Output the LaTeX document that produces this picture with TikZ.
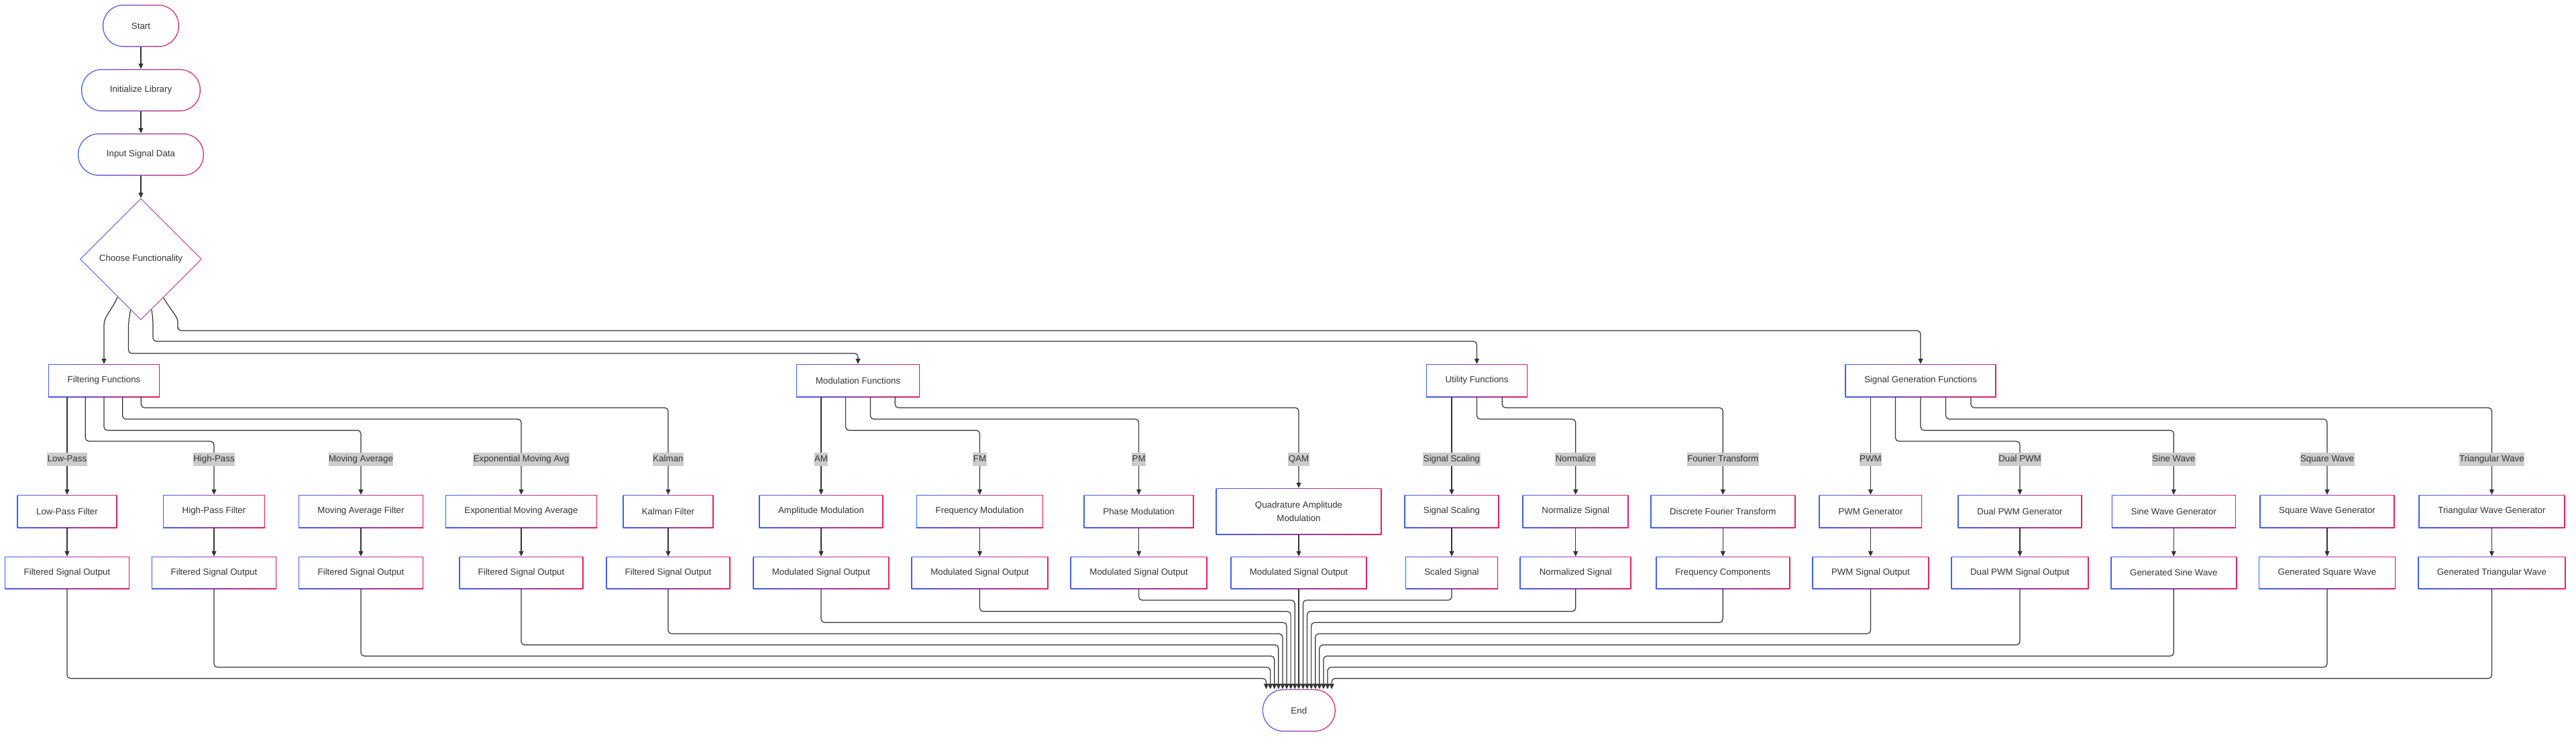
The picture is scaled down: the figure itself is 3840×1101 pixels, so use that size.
\documentclass[tikz,border=0pt]{standalone}
\usepackage{fontspec}
\setmainfont{Liberation Sans}
\usetikzlibrary{arrows.meta,shapes.geometric,calc}
\definecolor{gblue}{HTML}{3F5EF5}
\definecolor{gred}{HTML}{E91E5A}
\definecolor{txtc}{HTML}{333333}
\definecolor{linec}{HTML}{333333}
\definecolor{lblbg}{HTML}{CCCCCC}
\newcommand\nodefont{\fontsize{13.3pt}{20.3pt}\selectfont}
\tikzset{
  gradbox/.style={rectangle, inner sep=0pt, minimum width=#1, minimum height=49pt,
    fill=white, text=txtc, font=\nodefont, align=center,
    path picture={
      \shade[left color=gblue,right color=gred] (path picture bounding box.south west) rectangle (path picture bounding box.north east);
      \fill[white] ([shift={(1.3pt,1.3pt)}]path picture bounding box.south west) rectangle ([shift={(-1.3pt,-1.3pt)}]path picture bounding box.north east);
    }},
  term/.style={rectangle, rounded corners=31pt, inner sep=0pt, minimum width=#1, minimum height=63pt,
    fill=white, text=txtc, font=\nodefont,
    path picture={
      \shade[left color=gblue,right color=gred] (path picture bounding box.south west) rectangle (path picture bounding box.north east);
      \fill[white, rounded corners=29.7pt] ([shift={(1.3pt,1.3pt)}]path picture bounding box.south west) rectangle ([shift={(-1.3pt,-1.3pt)}]path picture bounding box.north east);
    }},
  dia/.style={diamond, aspect=1, minimum width=182pt, minimum height=182pt, inner sep=0pt,
    fill=white, text=txtc, font=\nodefont,
    path picture={
      \shade[left color=gblue,right color=gred] (path picture bounding box.south west) rectangle (path picture bounding box.north east);
      \fill[white] ([xshift=1.6pt]path picture bounding box.west) -- ([yshift=-1.6pt]path picture bounding box.north) -- ([xshift=-1.6pt]path picture bounding box.east) -- ([yshift=1.6pt]path picture bounding box.south) -- cycle;
    }},
  arr/.style={draw=linec, line width=1.2pt, rounded corners=5pt, -{Triangle[length=8pt,width=7pt]}},
  lbl/.style={fill=lblbg, text=txtc, font=\nodefont, inner xsep=0.5pt, inner ysep=3.5pt, text height=10pt, text depth=3pt},
}
\newcommand\myroute[3]{\draw[arr] (#1) -- (#1 |- 0,#2) -- (#3.north |- 0,#2) -- (#3.north);}
\newcommand\toend[3]{\coordinate (#1e) at ([xshift=#2pt]End.north);
  \draw[arr] (#1.south) -- (#1.south |- 0,#3) -- (#1e |- 0,#3) -- (#1e);}
\begin{document}
\begin{tikzpicture}[x=1pt,y=-1pt]
\fill[white] (0,0) rectangle (3840,1101);
\useasboundingbox (0,0) rectangle (3840,1101);

% top chain
\node[term=114] (start) at (210,38.5) {Start};
\node[term=178] (init) at (210,134.5) {Initialize Library};
\node[term=188] (input) at (210,230.5) {Input Signal Data};
\node[dia] (choose) at (210,386.5) {Choose Functionality};

% level 2
\node[gradbox=166] (filt) at (155,567.5) {Filtering Functions};
\node[gradbox=184] (modf) at (1279,567.5) {Modulation Functions};
\node[gradbox=151] (util) at (2201.5,567.5) {Utility Functions};
\node[gradbox=225] (sigf) at (2863,567.5) {Signal Generation Functions};

% level 3
\node[gradbox=149] (lp) at (100,762.5) {Low-Pass Filter};
\node[gradbox=152] (hp) at (319,762.5) {High-Pass Filter};
\node[gradbox=186] (ma) at (538,762.5) {Moving Average Filter};
\node[gradbox=226] (ema) at (777,762.5) {Exponential Moving Average};
\node[gradbox=135] (kal) at (996,762.5) {Kalman Filter};
\node[gradbox=185] (am) at (1224,762.5) {Amplitude Modulation};
\node[gradbox=189] (fm) at (1460.5,762.5) {Frequency Modulation};
\node[gradbox=164] (pm) at (1697.6,762.5) {Phase Modulation};
\node[gradbox=247, minimum height=69pt] (qam) at (1936,762.5) {Quadrature Amplitude\\Modulation};
\node[gradbox=141.5] (ss) at (2164,762.5) {Signal Scaling};
\node[gradbox=158] (ns) at (2348.7,762.5) {Normalize Signal};
\node[gradbox=216] (dft) at (2568.3,762.5) {Discrete Fourier Transform};
\node[gradbox=153.5] (pwm) at (2788.4,762.5) {PWM Generator};
\node[gradbox=185] (dpwm) at (3011,762.5) {Dual PWM Generator};
\node[gradbox=185] (sine) at (3240.3,762.5) {Sine Wave Generator};
\node[gradbox=201] (sq) at (3469,762.5) {Square Wave Generator};
\node[gradbox=218] (tri) at (3714.4,762.5) {Triangular Wave Generator};

% level 4
\node[gradbox=186, minimum height=48pt] (o1) at (100,854) {Filtered Signal Output};
\node[gradbox=186, minimum height=48pt] (o2) at (319,854) {Filtered Signal Output};
\node[gradbox=186, minimum height=48pt] (o3) at (538,854) {Filtered Signal Output};
\node[gradbox=185, minimum height=48pt] (o4) at (777,854) {Filtered Signal Output};
\node[gradbox=185, minimum height=48pt] (o5) at (996,854) {Filtered Signal Output};
\node[gradbox=203, minimum height=48pt] (o6) at (1224,854) {Modulated Signal Output};
\node[gradbox=204, minimum height=48pt] (o7) at (1460.5,854) {Modulated Signal Output};
\node[gradbox=204, minimum height=48pt] (o8) at (1697.6,854) {Modulated Signal Output};
\node[gradbox=203, minimum height=48pt] (o9) at (1936,854) {Modulated Signal Output};
\node[gradbox=138, minimum height=48pt] (o10) at (2164,854) {Scaled Signal};
\node[gradbox=166, minimum height=48pt] (o11) at (2348.7,854) {Normalized Signal};
\node[gradbox=200, minimum height=48pt] (o12) at (2568.3,854) {Frequency Components};
\node[gradbox=174, minimum height=48pt] (o13) at (2788.4,854) {PWM Signal Output};
\node[gradbox=205, minimum height=48pt] (o14) at (3011,854) {Dual PWM Signal Output};
\node[gradbox=188, minimum height=48pt] (o15) at (3240.3,854) {Generated Sine Wave};
\node[gradbox=204, minimum height=48pt] (o16) at (3469,854) {Generated Square Wave};
\node[gradbox=220, minimum height=48pt] (o17) at (3714.4,854) {Generated Triangular Wave};

\node[term=109] (End) at (1936.3,1059.4) {End};

% top chain connectors
\draw[arr] (start) -- (init);
\draw[arr] (init) -- (input);
\draw[arr] (input) -- (choose);

% diamond exits
\coordinate (d1) at ($(choose.west)!0.62!(choose.south)$);
\coordinate (d2) at ($(choose.west)!0.83!(choose.south)$);
\coordinate (d3) at ($(choose.south)!0.176!(choose.east)$);
\coordinate (d4) at ($(choose.south)!0.37!(choose.east)$);
\draw[arr] (d1) .. controls (165,465) and (155,472) .. (155,490) -- (filt.north);
\draw[arr] (d2) .. controls (192.5,475) and (191.5,480) .. (191.5,495) -- (191.5,527) -- (modf.north |- 0,527) -- (modf.north);
\draw[arr] (d3) .. controls (227.5,472) and (228,478) .. (228,490) -- (228,509) -- (util.north |- 0,509) -- (util.north);
\draw[arr] (d4) .. controls (256,465) and (265,472) .. (265,485) -- (265,493) -- (sigf.north |- 0,493) -- (sigf.north);

% filtering branches
\coordinate (fx2) at ([xshift=-27.67pt]filt.south);
\coordinate (fx3) at (filt.south);
\coordinate (fx4) at ([xshift=27.67pt]filt.south);
\coordinate (fx5) at ([xshift=55.33pt]filt.south);
\draw[arr] (filt.south -| lp) -- (lp.north);
\myroute{fx2}{658}{hp}
\myroute{fx3}{641.7}{ma}
\myroute{fx4}{625}{ema}
\myroute{fx5}{608}{kal}

% modulation branches
\coordinate (mx2) at ([xshift=-18.4pt]modf.south);
\coordinate (mx3) at ([xshift=18.4pt]modf.south);
\coordinate (mx4) at ([xshift=55.2pt]modf.south);
\draw[arr] (modf.south -| am) -- (am.north);
\myroute{mx2}{641.7}{fm}
\myroute{mx3}{625}{pm}
\myroute{mx4}{608}{qam}

% utility branches
\coordinate (ux2) at (util.south);
\coordinate (ux3) at ([xshift=37.75pt]util.south);
\draw[arr] (util.south -| ss) -- (ss.north);
\myroute{ux2}{625}{ns}
\myroute{ux3}{608}{dft}

% signal generation branches
\coordinate (sx2) at ([xshift=-37.5pt]sigf.south);
\coordinate (sx3) at (sigf.south);
\coordinate (sx4) at ([xshift=37.5pt]sigf.south);
\coordinate (sx5) at ([xshift=75pt]sigf.south);
\draw[arr] (sigf.south -| pwm) -- (pwm.north);
\myroute{sx2}{658}{dpwm}
\myroute{sx3}{641.7}{sine}
\myroute{sx4}{625}{sq}
\myroute{sx5}{608}{tri}

% edge labels
\node[lbl] (l1) at (lp.north |- 0,684.7) {Low-Pass};
\node[lbl] (l2) at (hp.north |- 0,684.7) {High-Pass};
\node[lbl] (l3) at (ma.north |- 0,684.7) {Moving Average};
\node[lbl] (l4) at (ema.north |- 0,684.7) {Exponential Moving Avg};
\node[lbl] (l5) at (kal.north |- 0,684.7) {Kalman};
\node[lbl] (l6) at (am.north |- 0,684.7) {AM};
\node[lbl] (l7) at (fm.north |- 0,684.7) {FM};
\node[lbl] (l8) at (pm.north |- 0,684.7) {PM};
\node[lbl] (l9) at (qam.north |- 0,684.7) {QAM};
\node[lbl] (l10) at (ss.north |- 0,684.7) {Signal Scaling};
\node[lbl] (l11) at (ns.north |- 0,684.7) {Normalize};
\node[lbl] (l12) at (dft.north |- 0,684.7) {Fourier Transform};
\node[lbl] (l13) at (pwm.north |- 0,684.7) {PWM};
\node[lbl] (l14) at (dpwm.north |- 0,684.7) {Dual PWM};
\node[lbl] (l15) at (sine.north |- 0,684.7) {Sine Wave};
\node[lbl] (l16) at (sq.north |- 0,684.7) {Square Wave};
\node[lbl] (l17) at (tri.north |- 0,684.7) {Triangular Wave};

% level 3 -> level 4
\foreach \a/\b in {lp/o1,hp/o2,ma/o3,ema/o4,kal/o5,am/o6,fm/o7,pm/o8,qam/o9,ss/o10,ns/o11,dft/o12,pwm/o13,dpwm/o14,sine/o15,sq/o16,tri/o17}
  \draw[arr] (\a) -- (\b);

% outputs -> End
\toend{o1}{-48.8}{1011.7}
\toend{o2}{-42.7}{995}
\toend{o3}{-36.6}{978.3}
\toend{o4}{-30.5}{961.7}
\toend{o5}{-24.4}{945}
\toend{o6}{-18.3}{928.3}
\toend{o7}{-12.2}{911.7}
\toend{o8}{-6.1}{895}
\draw[arr] (o9.south) -- (End.north -| o9.south);
\toend{o10}{6.1}{895}
\toend{o11}{12.2}{911.7}
\toend{o12}{18.3}{928.3}
\toend{o13}{24.4}{945}
\toend{o14}{30.5}{961.7}
\toend{o15}{36.6}{978.3}
\toend{o16}{42.7}{995}
\toend{o17}{48.8}{1011.7}
\end{tikzpicture}
\end{document}
